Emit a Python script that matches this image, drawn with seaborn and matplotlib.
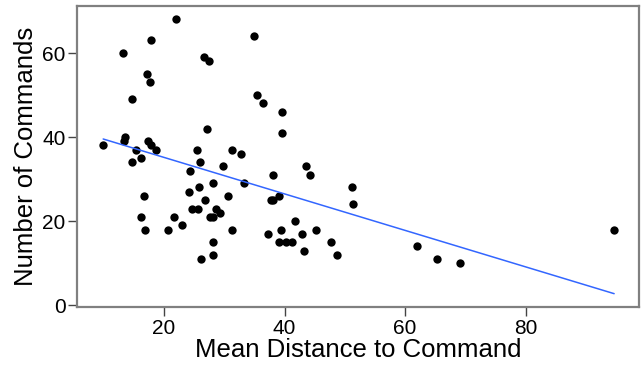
import pandas as pd
import matplotlib
matplotlib.use('Agg')
import matplotlib.pyplot as plt
import seaborn as sns

# Values
mean_distance = [
    22.0, 13.2, 17.8, 35.0, 26.7, 27.4, 17.1, 17.6, 14.6, 35.4,
    27.1, 13.5, 13.4, 9.9, 15.3, 17.4, 17.9, 18.7, 14.6, 16.2,
    25.4, 26.0, 31.2, 32.7, 24.3, 29.8, 36.5, 39.6, 39.6, 43.6,
    38.0, 44.3, 25.8, 28.2, 24.2, 26.8, 30.6, 33.2, 16.6, 24.6,
    25.7, 28.7, 29.3, 27.6, 28.2, 16.2, 21.6, 22.9, 16.9, 20.6,
    31.2, 28.2, 28.2, 26.2, 37.7, 38.1, 39.1, 51.2, 51.4, 41.7,
    37.3, 39.4, 42.9, 45.2, 39.1, 40.3, 41.3, 47.7, 43.2, 48.7,
    61.9, 65.3, 69.1, 94.7,
]
num_commands = [
    68, 60, 63, 64, 59, 58, 55, 53, 49, 50,
    42, 40, 39, 38, 37, 39, 38, 37, 34, 35,
    37, 34, 37, 36, 32, 33, 48, 46, 41, 33,
    31, 31, 28, 29, 27, 25, 26, 29, 26, 23,
    23, 23, 22, 21, 21, 21, 21, 19, 18, 18,
    18, 15, 12, 11, 25, 25, 26, 28, 24, 20,
    17, 18, 17, 18, 15, 15, 15, 15, 13, 12,
    14, 11, 10, 18,
]

def main():
    df = pd.DataFrame({'dist': mean_distance, 'cmds': num_commands})

    sns.set_style('white')
    plt.rcParams['font.family'] = ['Liberation Sans', 'DejaVu Sans']

    fig, ax = plt.subplots(figsize=(6.44, 3.71), dpi=100)
    fig.subplots_adjust(left=0.12, right=0.992, bottom=0.173, top=0.985)

    sns.regplot(data=df, x='dist', y='cmds', ax=ax, ci=None, truncate=True,
                scatter_kws={'s': 36, 'color': 'black', 'alpha': 1, 'linewidths': 0},
                line_kws={'color': '#3366FF', 'linewidth': 1.1})

    ax.set_xlim(5.6, 98.8)
    ax.set_ylim(-0.4, 71.3)
    ax.set_xticks([20, 40, 60, 80])
    ax.set_yticks([0, 20, 40, 60])
    ax.set_xlabel('Mean Distance to Command', fontsize=18.5, labelpad=0, color='black')
    ax.set_ylabel('Number of Commands', fontsize=18.5, labelpad=3, color='black')
    ax.tick_params(axis='both', labelsize=15, length=6.5, width=1, color='#444444',
                   labelcolor='black', direction='out', bottom=True, left=True, pad=2)

    for sp in ax.spines.values():
        sp.set_color('#808080')
        sp.set_linewidth(1.6)

    fig.savefig('out.png', dpi=100)

if __name__ == '__main__':
    main()
